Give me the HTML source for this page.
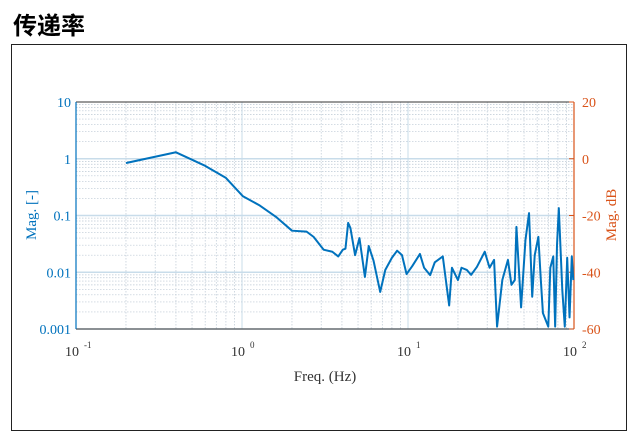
<!DOCTYPE html>
<html><head><meta charset="utf-8"><style>
body{margin:0;background:#fff;width:638px;height:441px;overflow:hidden;position:relative;font-family:"Liberation Serif",serif}
#title{position:absolute;left:13px;top:6px;font:bold 24px "Liberation Sans","Noto Sans CJK SC",sans-serif;color:#000}
#frame{position:absolute;left:11px;top:44px;width:616px;height:387px;border:1.5px solid #222;box-sizing:border-box}
svg{position:absolute;left:0;top:0}
</style></head><body>
<div id="title">传递率</div>
<div id="frame"></div>
<svg id="c" width="638" height="441"></svg>
<script>
const freq=[0.2,0.4,0.6,0.8,1.01,1.28,1.6,2.0,2.45,2.7,3.1,3.5,3.8,4.05,4.2,4.36,4.5,4.8,5.1,5.5,5.8,6.2,6.8,7.3,8.0,8.6,9.2,9.8,10.6,11.8,12.5,13.6,14.5,16.2,17.7,18.4,20,21,22.6,24,26,29,31,33,34.4,37,40,42,44,45,48,51,53.6,56,58,61,63,65,70,72,75,77,79,81,85,88,91,94,97,99];
const mag=[0.84,1.3,0.75,0.46,0.22,0.15,0.095,0.054,0.052,0.042,0.025,0.023,0.019,0.025,0.026,0.074,0.06,0.020,0.040,0.0083,0.029,0.016,0.0045,0.011,0.018,0.024,0.020,0.0093,0.0128,0.021,0.012,0.0089,0.015,0.019,0.0026,0.012,0.0073,0.012,0.011,0.009,0.0124,0.023,0.012,0.0165,0.0011,0.0073,0.0165,0.006,0.0073,0.063,0.0024,0.037,0.11,0.0037,0.02,0.042,0.008,0.0019,0.0011,0.012,0.019,0.0011,0.03,0.135,0.0049,0.0011,0.018,0.0016,0.019,0.0073];
const xTicks=[0.1,1,10,100];
const xTickLabels=["-1","0","1","2"];
const yTicks=[0.001,0.01,0.1,1,10];
const yTickLabels=["0.001","0.01","0.1","1","10"];
const dbTicks=[20,0,-20,-40,-60];
const X0=76,X1=574,Y0=102,Y1=329;
const sx=f=>X0+(Math.log10(f)+1)/3*(X1-X0);
const sy=m=>Y0+(1-Math.log10(m))/4*(Y1-Y0);
const sdb=d=>Y0+(20-d)/80*(Y1-Y0);
const svg=document.getElementById('c');const NS='http://www.w3.org/2000/svg';
function el(t,a,txt){const e=document.createElementNS(NS,t);for(const k in a)e.setAttribute(k,a[k]);if(txt!=null)e.textContent=txt;svg.appendChild(e);return e;}
const BLUE='#0072BD',OR='#D95319';
// grid
for(let d=-1;d<2;d++)for(let k=1;k<10;k++){const f=k*Math.pow(10,d);const x=sx(f);
 const g=el('line',{x1:x,x2:x,y1:Y0,y2:Y1,stroke:k==1?'#c8dcea':'#bcc8d4','stroke-width':k==1?1:0.7,'stroke-dasharray':k==1?'':'1.5,1.5'});
 }
for(let d=-3;d<1;d++)for(let k=1;k<10;k++){const m=k*Math.pow(10,d);const y=sy(m);
 const g=el('line',{x1:X0,x2:X1,y1:y,y2:y,stroke:k==1?'#c8dcea':'#bcc8d4','stroke-width':k==1?1.5:0.7,'stroke-dasharray':k==1?'':'1.5,1.5'});
 }
el('line',{x1:X0,x2:X1,y1:Y0,y2:Y0,stroke:'#333','stroke-width':1});
const xa=el('line',{x1:X0,x2:X1,y1:Y1,y2:Y1,stroke:'#333','stroke-width':1});

const ya=el('line',{x1:X0,x2:X0,y1:Y0,y2:Y1,stroke:BLUE,'stroke-width':1.2});

const ra=el('line',{x1:X1,x2:X1,y1:Y0,y2:Y1,stroke:OR,'stroke-width':1.2});

xTicks.forEach((f,i)=>{const x=sx(f);
 const t=el('text',{x:x-4,y:356,'font-size':14,'text-anchor':'middle',fill:'#333'},'10');
 
 const s=el('text',{x:x+8,y:348,'font-size':9,fill:'#333'},xTickLabels[i]);
 });
yTicks.forEach((m,i)=>{const t=el('text',{x:71,y:sy(m)+5,'font-size':14,'text-anchor':'end',fill:BLUE},yTickLabels[i]);
 });
dbTicks.forEach(d=>{const y=sdb(d);el('line',{x1:X1,x2:X1-5,y1:y,y2:y,stroke:OR});
 const t=el('text',{x:582,y:y+5,'font-size':14,fill:OR},String(d));
 });
const xl=el('text',{x:325,y:381,'font-size':15,'text-anchor':'middle',fill:'#333'},'Freq. (Hz)');

const yl=el('text',{x:0,y:0,'font-size':15,'text-anchor':'middle',fill:BLUE,transform:'translate(36,215) rotate(-90)'},'Mag. [-]');

const rl=el('text',{x:0,y:0,'font-size':15,'text-anchor':'middle',fill:OR,transform:'translate(616,215) rotate(-90)'},'Mag. dB');

const ln=el('polyline',{points:freq.map((f,i)=>sx(f)+','+sy(mag[i])).join(' '),fill:'none',stroke:BLUE,'stroke-width':2,'stroke-linejoin':'round'});

</script>
</body></html>
